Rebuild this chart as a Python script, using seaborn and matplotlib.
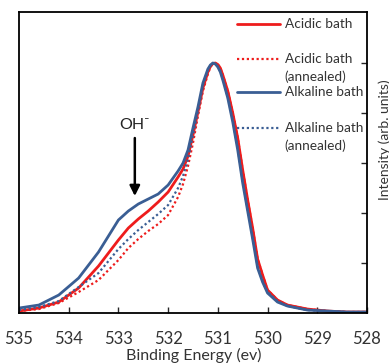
import numpy as np
import pandas as pd
import matplotlib
matplotlib.use("Agg")
import matplotlib.pyplot as plt
import seaborn as sns

# Binding energy grid (eV) and intensities (arb. units)
energy = [535.0, 534.6, 534.2, 533.8, 533.4, 533.0, 532.8, 532.6, 532.4, 532.2,
          532.0, 531.8, 531.7, 531.6, 531.5, 531.4, 531.3, 531.2, 531.15, 531.1,
          531.05, 531.0, 530.95, 530.9, 530.8, 530.7, 530.6, 530.5, 530.4, 530.3,
          530.2, 530.1, 530.0, 529.8, 529.6, 529.2, 528.8, 528.4, 528.0]

acidic = [0.04, 0.10, 0.22, 0.50, 0.94, 1.46, 1.70, 1.88, 2.04, 2.22,
          2.42, 2.72, 2.88, 3.14, 3.56, 4.02, 4.50, 4.82, 4.93, 4.99,
          5.00, 4.97, 4.90, 4.76, 4.44, 4.00, 3.50, 2.86, 2.26, 1.70,
          1.08, 0.76, 0.46, 0.26, 0.16, 0.08, 0.04, 0.02, 0.02]

acidic_ann = [0.04, 0.08, 0.20, 0.42, 0.66, 1.06, 1.30, 1.48, 1.64, 1.78,
              1.96, 2.32, 2.58, 2.94, 3.40, 3.94, 4.44, 4.78, 4.92, 4.99,
              5.00, 4.97, 4.90, 4.76, 4.44, 4.00, 3.50, 2.86, 2.26, 1.70,
              1.08, 0.76, 0.46, 0.26, 0.16, 0.08, 0.04, 0.02, 0.02]

alkaline = [0.10, 0.16, 0.36, 0.70, 1.22, 1.86, 2.04, 2.18, 2.28, 2.38,
            2.56, 2.84, 3.00, 3.26, 3.70, 4.12, 4.60, 4.88, 4.96, 5.00,
            4.98, 4.92, 4.82, 4.66, 4.30, 3.82, 3.26, 2.60, 2.04, 1.48,
            0.90, 0.62, 0.40, 0.22, 0.14, 0.06, 0.04, 0.02, 0.02]

alkaline_ann = [0.06, 0.12, 0.24, 0.52, 0.80, 1.28, 1.48, 1.66, 1.82, 1.98,
                2.16, 2.50, 2.74, 3.08, 3.56, 4.04, 4.56, 4.86, 4.95, 5.00,
                4.98, 4.93, 4.84, 4.68, 4.32, 3.86, 3.30, 2.64, 2.08, 1.52,
                0.94, 0.64, 0.42, 0.24, 0.14, 0.06, 0.04, 0.02, 0.02]

xticks = [535, 534, 533, 532, 531, 530, 529, 528]
yticks = [1, 2, 3, 4, 5]

red = "#EE1C1C"
blue = "#3A5E94"

sns.set_style("white")
plt.rcParams["font.family"] = ["Lato", "DejaVu Sans"]

fig = plt.figure(figsize=(3.89, 3.64), dpi=100)
ax = fig.add_axes([0.0488, 0.140, 0.8946, 0.827])

series = [
    ("Acidic bath", acidic, red, "-", 2.0),
    ("Acidic bath\n(annealed)", acidic_ann, red, (0, (1, 1.2)), 1.6),
    ("Alkaline bath", alkaline, blue, "-", 2.0),
    ("Alkaline bath\n(annealed)", alkaline_ann, blue, (0, (1, 1.2)), 1.6),
]
for name, vals, col, ls, lw in series:
    df = pd.DataFrame({"E": energy, "I": vals})
    sns.lineplot(data=df, x="E", y="I", color=col, linestyle=ls, linewidth=lw,
                 sort=False, ax=ax, legend=False, solid_joinstyle="round")

ax.set_xlim(535, 528)
ax.set_ylim(0, 6.02)
ax.set_xticks(xticks)
ax.set_xticklabels([str(t) for t in xticks], fontsize=12, color="#333333")
ax.set_yticks(yticks)
ax.tick_params(axis="x", direction="in", length=4, width=1, pad=13, bottom=True)
ax.tick_params(axis="y", direction="in", length=4, width=1, left=False,
               right=True, labelleft=False, labelright=False)
for s in ax.spines.values():
    s.set_color("black")
    s.set_linewidth(1.3)

ax.set_xlabel("Binding Energy (ev)", fontsize=11.5, color="#333333")
ax.xaxis.set_label_coords(0.501, -0.117)
ax.set_ylabel("Intensity (arb. units)", fontsize=10, color="#333333")
ax.yaxis.set_label_position("right")
ax.yaxis.set_label_coords(1.05, 0.575)
ax.yaxis.label.set_verticalalignment("center")

# OH- marker
ax.annotate("", xy=(532.67, 2.34), xytext=(532.67, 3.5),
            arrowprops=dict(arrowstyle="-|>", color="black", lw=1.8,
                            mutation_scale=15, shrinkA=0, shrinkB=0))
ax.text(532.67, 3.76, "OH\u207b", ha="center", va="center", fontsize=11.5,
        color="#222222", family=["Lato", "DejaVu Sans"])

# legend, drawn by hand so the handle sits on the first text line
leg_rows = [(0.960, None), (0.844, 0.784), (0.734, None), (0.615, 0.555)]
for (name, vals, col, ls, lw), (yy, y2) in zip(series, leg_rows):
    ax.plot([0.626, 0.749], [yy, yy], color=col, linestyle=ls, linewidth=lw,
            transform=ax.transAxes)
    lines = name.split("\n")
    ax.text(0.763, yy, lines[0], transform=ax.transAxes, va="center", ha="left",
            fontsize=9.8, color="#333333")
    if y2 is not None:
        ax.text(0.763, y2, lines[1], transform=ax.transAxes,
                va="center", ha="left", fontsize=9.8, color="#333333")

fig.savefig("out.png", dpi=100)
